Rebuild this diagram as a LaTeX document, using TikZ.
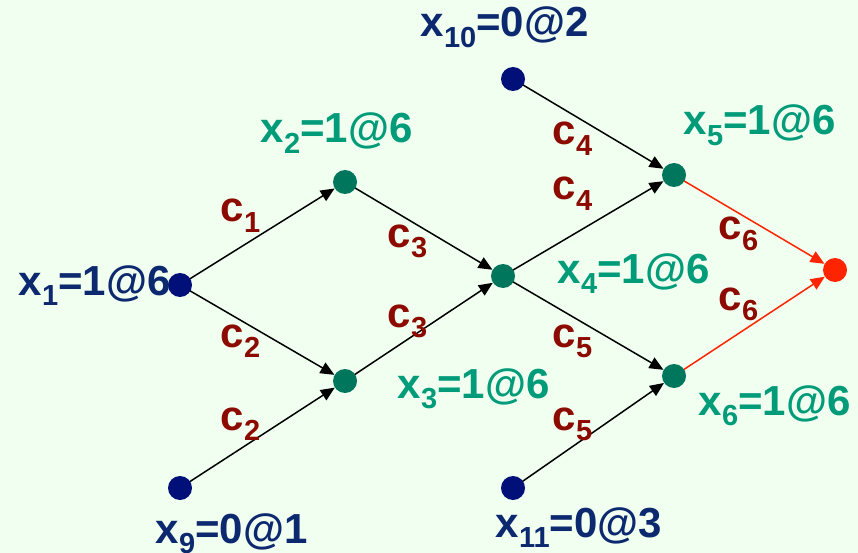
\documentclass[tikz,border=0pt]{standalone}
\usepackage{fontspec}
\setmainfont{Liberation Sans}
\usetikzlibrary{arrows.meta}
\definecolor{bgc}{RGB}{240,255,240}
\definecolor{navytxt}{RGB}{12,40,110}
\definecolor{navydot}{RGB}{0,16,120}
\definecolor{tealtxt}{RGB}{0,155,120}
\definecolor{tealdot}{RGB}{0,118,92}
\definecolor{ctxt}{RGB}{140,10,0}
\definecolor{reddot}{RGB}{255,36,0}
\pgfdeclarelayer{bg}
\pgfdeclarelayer{edges}
\pgfsetlayers{bg,edges,main}
\newcommand{\lbl}[3]{#1\kern0.5pt\raisebox{-10.5pt}{\fontsize{29}{29}\selectfont #2}#3}
\begin{document}
\begin{tikzpicture}[x=1pt,y=-1pt,
  dot/.style={circle,inner sep=0pt,minimum size=24pt},
  ndot/.style={dot,fill=navydot},
  tdot/.style={dot,fill=tealdot},
  rdot/.style={dot,fill=reddot},
  txt/.style={inner sep=0pt,anchor=base west,font=\fontsize{42}{50}\selectfont\bfseries},
  ntxt/.style={txt,text=navytxt},
  ttxt/.style={txt,text=tealtxt},
  ctx/.style={txt,text=ctxt},
  arr/.style={line width=1.5pt,-{Triangle[length=14pt,width=12pt]}},
  rarr/.style={arr,draw=reddot}]
\begin{pgfonlayer}{bg}
\fill[bgc] (0,0) rectangle (858,553);
\end{pgfonlayer}
\useasboundingbox (0,0) rectangle (858,553);
% dots
\node[ndot] (x1) at (180,285) {};
\node[tdot] (x2) at (345,182) {};
\node[tdot] (x3) at (345,381) {};
\node[tdot] (x4) at (503,276) {};
\node[tdot] (x5) at (674,175) {};
\node[tdot] (x6) at (674,376) {};
\node[rdot] (x7) at (835,270) {};
\node[ndot] (x9) at (180,488) {};
\node[ndot] (x10) at (513,79) {};
\node[ndot] (x11) at (513,488) {};
% edges
\begin{pgfonlayer}{edges}
\draw[arr] (x1.center) -- (x2);
\draw[arr] (x1.center) -- (x3);
\draw[arr] (x9.center) -- (x3);
\draw[arr] (x2.center) -- (x4);
\draw[arr] (x3.center) -- (x4);
\draw[arr] (x10.center) -- (x5);
\draw[arr] (x4.center) -- (x5);
\draw[arr] (x4.center) -- (x6);
\draw[arr] (x11.center) -- (x6);
\draw[rarr] (x5.center) -- (x7);
\draw[rarr] (x6.center) -- (x7);
\end{pgfonlayer}
% node labels
\node[ntxt] (l1) at (18,295) {\lbl{x}{1}{=1@6}};
\node[ttxt] (l2) at (260,143) {\lbl{x}{2}{=1@6}};
\node[ttxt] (l3) at (397,398) {\lbl{x}{3}{=1@6}};
\node[ttxt] (l4) at (557,283) {\lbl{x}{4}{=1@6}};
\node[ttxt] (l5) at (683,135) {\lbl{x}{5}{=1@6}};
\node[ttxt] (l6) at (698,415) {\lbl{x}{6}{=1@6}};
\node[ntxt] (l9) at (155,543) {\lbl{x}{9}{=0@1}};
\node[ntxt] (l10) at (420,37) {\lbl{x}{10}{=0@2}};
\node[ntxt] (l11) at (495,537) {\lbl{x}{11}{=0@3}};
% edge labels
\node[ctx] (c1) at (220,222) {\lbl{c}{1}{}};
\node[ctx] (c2a) at (220,347) {\lbl{c}{2}{}};
\node[ctx] (c2b) at (220,430) {\lbl{c}{2}{}};
\node[ctx] (c3a) at (387,247) {\lbl{c}{3}{}};
\node[ctx] (c3b) at (387,327) {\lbl{c}{3}{}};
\node[ctx] (c4a) at (552,145) {\lbl{c}{4}{}};
\node[ctx] (c4b) at (552,200) {\lbl{c}{4}{}};
\node[ctx] (c5a) at (552,347) {\lbl{c}{5}{}};
\node[ctx] (c5b) at (552,430) {\lbl{c}{5}{}};
\node[ctx] (c6a) at (718,240) {\lbl{c}{6}{}};
\node[ctx] (c6b) at (718,310) {\lbl{c}{6}{}};
\end{tikzpicture}
\end{document}
